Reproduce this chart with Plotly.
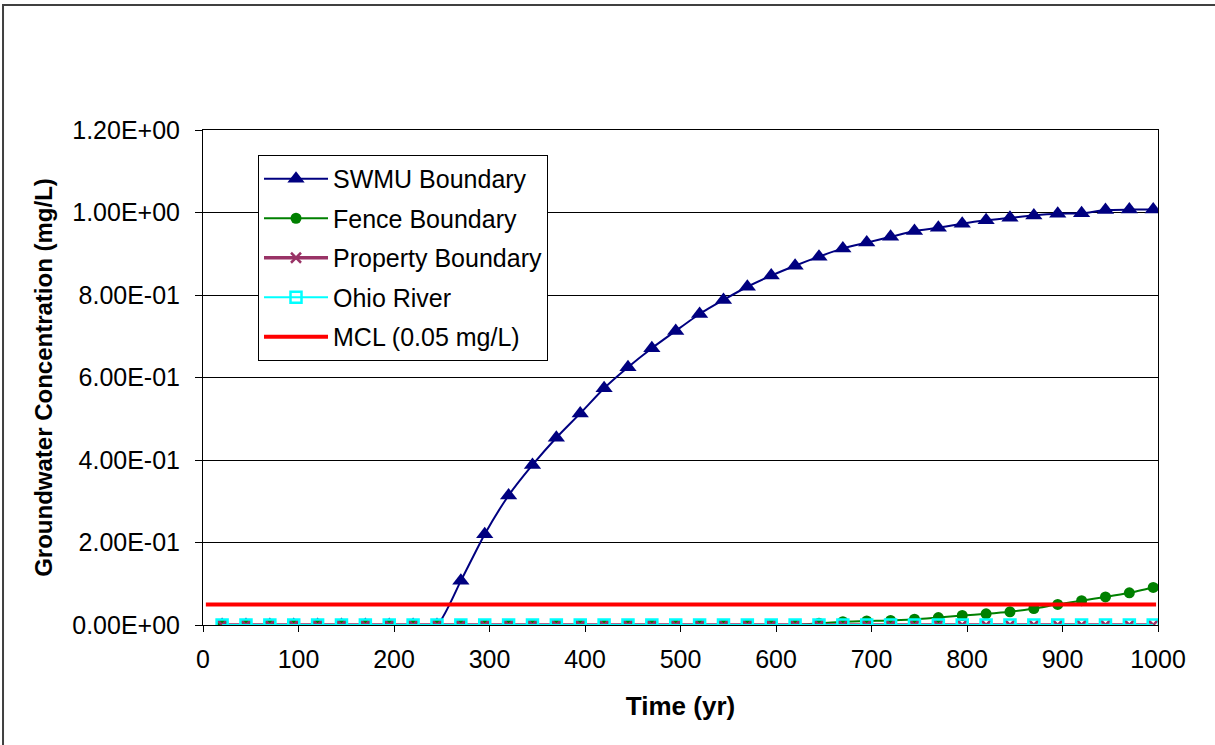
import plotly.graph_objects as go

# ---------------- data ----------------
time_yr = [20, 45, 70, 95, 120, 145, 170, 195, 220, 245,
           270, 295, 320, 345, 370, 395, 420, 445, 470, 495,
           520, 545, 570, 595, 620, 645, 670, 695, 720, 745,
           770, 795, 820, 845, 870, 895, 920, 945, 970, 995]

swmu_boundary = [0.0, 0.0, 0.0, 0.0, 0.0, 0.0, 0.0, 0.0, 0.0, 0.0,
                 0.107, 0.220, 0.314, 0.388, 0.454, 0.513, 0.574, 0.625, 0.671, 0.713,
                 0.754, 0.788, 0.820, 0.847, 0.871, 0.893, 0.913, 0.927, 0.941, 0.955,
                 0.963, 0.973, 0.981, 0.987, 0.993, 0.997, 0.998, 1.006, 1.007, 1.007]

fence_boundary = [0.0, 0.0, 0.0, 0.0, 0.0, 0.0, 0.0, 0.0, 0.0, 0.0,
                  0.0, 0.0, 0.0, 0.0, 0.0, 0.0, 0.0, 0.0, 0.0, 0.0,
                  0.0, 0.0, 0.0, 0.0, 0.0, 0.004, 0.008, 0.010, 0.011, 0.014,
                  0.018, 0.023, 0.027, 0.032, 0.040, 0.050, 0.059, 0.068, 0.078, 0.091]

property_boundary = [0.0, 0.0, 0.0, 0.0, 0.0, 0.0, 0.0, 0.0, 0.0, 0.0,
                     0.0, 0.0, 0.0, 0.0, 0.0, 0.0, 0.0, 0.0, 0.0, 0.0,
                     0.0, 0.0, 0.0, 0.0, 0.0, 0.0, 0.0, 0.0, 0.0, 0.0,
                     0.0, 0.0, 0.0, 0.0, 0.0, 0.0, 0.0, 0.0, 0.0, 0.0]

ohio_river = [0.0, 0.0, 0.0, 0.0, 0.0, 0.0, 0.0, 0.0, 0.0, 0.0,
              0.0, 0.0, 0.0, 0.0, 0.0, 0.0, 0.0, 0.0, 0.0, 0.0,
              0.0, 0.0, 0.0, 0.0, 0.0, 0.0, 0.0, 0.0, 0.0, 0.0,
              0.0, 0.0, 0.0, 0.0, 0.0, 0.0, 0.0, 0.0, 0.0, 0.0]

mcl_x = [3, 998]
mcl_y = [0.05, 0.05]

y_tick_values = [0.0, 0.2, 0.4, 0.6, 0.8, 1.0, 1.2]
y_tick_labels = ["0.00E+00", "2.00E-01", "4.00E-01", "6.00E-01",
                 "8.00E-01", "1.00E+00", "1.20E+00"]
x_tick_values = [0, 100, 200, 300, 400, 500, 600, 700, 800, 900, 1000]

# ---------------- figure ----------------
FONT = "Liberation Sans, Arial, sans-serif"

fig = go.Figure()

fig.add_trace(go.Scatter(
    x=time_yr, y=swmu_boundary, name="SWMU Boundary", mode="lines+markers",
    line=dict(color="#000080", width=2, shape="spline", smoothing=0.6),
    marker=dict(symbol="triangle-up", size=15, color="#000080"),
    legendgroup="a"))

fig.add_trace(go.Scatter(
    x=time_yr, y=fence_boundary, name="Fence Boundary", mode="lines+markers",
    line=dict(color="#008000", width=2, shape="spline", smoothing=0.6),
    marker=dict(symbol="circle", size=11, color="#008000"),
    legendgroup="b"))

fig.add_trace(go.Scatter(
    x=time_yr, y=property_boundary, name="Property Boundary", mode="lines+markers",
    line=dict(color="#993366", width=3.5),
    marker=dict(symbol="x-thin", size=10, color="#993366",
                line=dict(color="#993366", width=2.5)),
    legendgroup="c"))

fig.add_trace(go.Scatter(
    x=time_yr, y=ohio_river, name="Ohio River", mode="lines+markers",
    line=dict(color="#00FFFF", width=2),
    marker=dict(symbol="square-open", size=11, color="#00FFFF",
                line=dict(color="#00FFFF", width=2.5)),
    legendgroup="d"))

fig.add_trace(go.Scatter(
    x=mcl_x, y=mcl_y, name="MCL (0.05 mg/L)", mode="lines",
    line=dict(color="#FF0000", width=4),
    legendgroup="e"))

fig.update_layout(
    width=1215, height=745, autosize=False,
    margin=dict(l=203, r=57, t=130, b=120),
    paper_bgcolor="white", plot_bgcolor="white",
    font=dict(family=FONT, size=25, color="black"),
    showlegend=True,
    legend=dict(
        x=0.0576, y=0.9495, xanchor="left", yanchor="top",
        bgcolor="white", bordercolor="black", borderwidth=1,
        font=dict(family=FONT, size=25, color="black"),
        traceorder="grouped", tracegroupgap=4, itemwidth=64,
    ),
    xaxis=dict(
        range=[0, 1000], tickvals=x_tick_values, ticks="outside", ticklen=6,
        tickcolor="black", showline=True, linecolor="black", linewidth=1,
        mirror=True, showgrid=False, zeroline=False,
        tickfont=dict(family=FONT, size=25), ticklabelstandoff=6,
        title=dict(text="<b>Time (yr)</b>", font=dict(family=FONT, size=26),
                   standoff=24),
    ),
    yaxis=dict(
        range=[0, 1.2], tickvals=y_tick_values, ticktext=y_tick_labels,
        ticks="outside", ticklen=7, tickcolor="black",
        showline=True, linecolor="black", linewidth=1, mirror=True,
        showgrid=True, gridcolor="#000000", gridwidth=1, zeroline=False,
        tickfont=dict(family=FONT, size=25), ticklabelstandoff=10,
        title=dict(text="<b>Groundwater Concentration (mg/L)</b>",
                   font=dict(family=FONT, size=24), standoff=12),
    ),
    shapes=[dict(type="rect", xref="paper", yref="paper",
                 x0=-0.2094, x1=1.2, y0=-0.4, y1=1.2525,
                 line=dict(color="#404040", width=2), layer="above")],
)

fig.write_html("out.html",
               config={"displayModeBar": False},
               post_script="document.body.style.margin='0';")
